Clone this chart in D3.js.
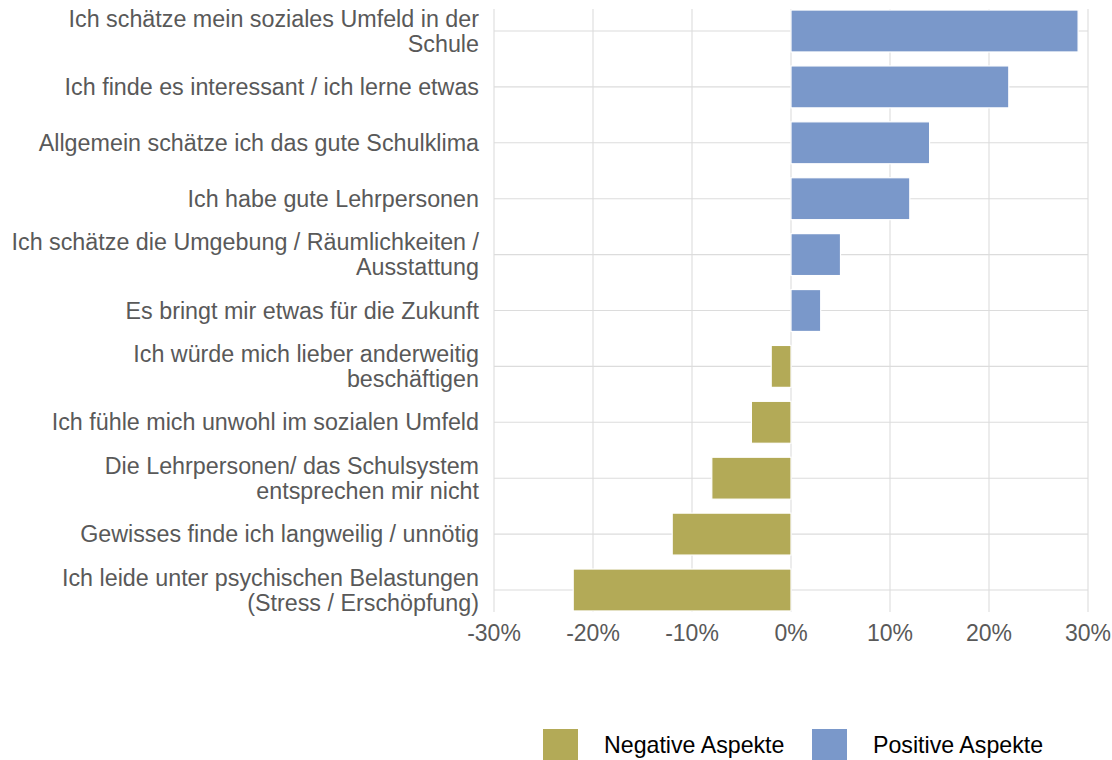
<!DOCTYPE html>
<html>
<head>
<meta charset="utf-8">
<script src="https://cdn.jsdelivr.net/npm/d3@7"></script>
<style>
  body { margin: 0; background: #fff; }
  svg { display: block; font-family: "Liberation Sans", Arial, Helvetica, sans-serif; }
</style>
</head>
<body>
<div id="chart"></div>
<script>
// categories, top to bottom (each entry = lines of the label)
const categories = [
    ["Ich schätze mein soziales Umfeld in der", "Schule"],
    ["Ich finde es interessant / ich lerne etwas"],
    ["Allgemein schätze ich das gute Schulklima"],
    ["Ich habe gute Lehrpersonen"],
    ["Ich schätze die Umgebung / Räumlichkeiten /", "Ausstattung"],
    ["Es bringt mir etwas für die Zukunft"],
    ["Ich würde mich lieber anderweitig", "beschäftigen"],
    ["Ich fühle mich unwohl im sozialen Umfeld"],
    ["Die Lehrpersonen/ das Schulsystem", "entsprechen mir nicht"],
    ["Gewisses finde ich langweilig / unnötig"],
    ["Ich leide unter psychischen Belastungen", "(Stress / Erschöpfung)"]
];
const values = [29, 22, 14, 12, 5, 3, -2, -4, -8, -12, -22];   // percent
const groups = ["Negative Aspekte", "Positive Aspekte"];
const xTicks = [-30, -20, -10, 0, 10, 20, 30];

const colors = { "Negative Aspekte": "#b3aa57", "Positive Aspekte": "#7a98ca" };

const width = 1112, height = 760;
const plotTop = 9, plotBottom = 612;

const svg = d3.select("#chart").append("svg")
    .attr("width", width)
    .attr("height", height);

const x = d3.scaleLinear().domain([-30, 30]).range([494, 1088]);

const keys = categories.map(c => c.join(" "));
const y = d3.scalePoint().domain(keys).range([31, 590]);
const barH = y.step() * 0.75;

// grid
svg.append("g").selectAll("line")
    .data(xTicks)
    .join("line")
    .attr("x1", d => x(d)).attr("x2", d => x(d))
    .attr("y1", plotTop).attr("y2", plotBottom)
    .attr("stroke", "#dcdcdc").attr("stroke-width", 1.1);

svg.append("g").selectAll("line")
    .data(keys)
    .join("line")
    .attr("x1", x(-30)).attr("x2", x(30))
    .attr("y1", d => y(d)).attr("y2", d => y(d))
    .attr("stroke", "#dcdcdc").attr("stroke-width", 1.1);

// bars
svg.append("g").selectAll("rect")
    .data(values)
    .join("rect")
    .attr("x", d => x(Math.min(0, d)))
    .attr("width", d => Math.abs(x(d) - x(0)))
    .attr("y", (d, i) => y(keys[i]) - barH / 2)
    .attr("height", barH)
    .attr("fill", d => d < 0 ? colors["Negative Aspekte"] : colors["Positive Aspekte"])
    .attr("stroke", "#fff")
    .attr("stroke-width", 1.2);

// y labels
const lineH = 25;
const yLab = svg.append("g")
    .attr("fill", "#595959")
    .attr("font-size", "23.3px")
    .attr("text-anchor", "end");

categories.forEach((lines, i) => {
    const cy = y(keys[i]);
    lines.forEach((ln, j) => {
        yLab.append("text")
            .attr("x", 479)
            .attr("y", cy + (j - (lines.length - 1) / 2) * lineH + 8)
            .text(ln);
    });
});

// x axis labels
svg.append("g").selectAll("text")
    .data(xTicks)
    .join("text")
    .attr("x", d => x(d))
    .attr("y", 641)
    .attr("text-anchor", "middle")
    .attr("fill", "#595959")
    .attr("font-size", "23px")
    .text(d => d + "%");

// legend
const legendX = [543, 812];
const leg = svg.append("g").selectAll("g")
    .data(groups)
    .join("g")
    .attr("transform", (d, i) => `translate(${legendX[i]},729)`);

leg.append("rect")
    .attr("width", 35)
    .attr("height", 35)
    .attr("fill", d => colors[d]);

leg.append("text")
    .attr("x", 61)
    .attr("y", 24)
    .attr("font-size", "23.2px")
    .attr("fill", "#000")
    .text(d => d);
</script>
</body>
</html>
